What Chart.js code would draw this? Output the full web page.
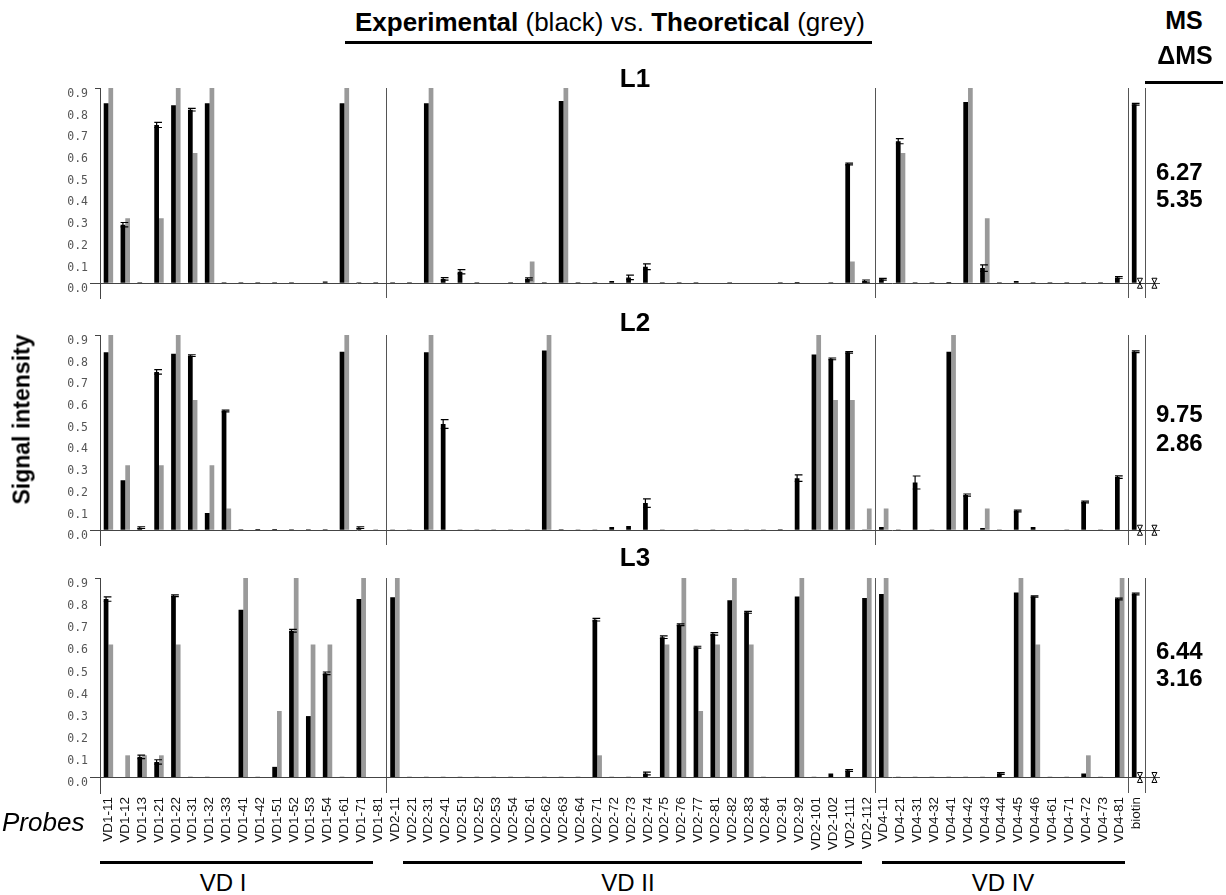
<!DOCTYPE html>
<html><head><meta charset="utf-8">
<script src="https://cdn.jsdelivr.net/npm/chart.js@4"></script>
<style>
body{margin:0;background:#fff;width:1226px;height:895px;position:relative;overflow:hidden;font-family:"Liberation Sans",Arial,sans-serif;color:#000}
canvas{position:absolute;left:0}
.t{position:absolute;white-space:nowrap;z-index:5}
.ln{position:absolute;background:#000;z-index:5}
.b{font-weight:bold}
</style></head><body>
<canvas id="c1" width="1226" height="226" style="top:80px"></canvas>
<canvas id="c2" width="1226" height="226" style="top:327px"></canvas>
<canvas id="c3" width="1226" height="285" style="top:570px"></canvas>

<div class="t" style="left:310px;width:600px;text-align:center;top:9px;font-size:26px;line-height:26px"><span class="b">Experimental</span> (black) vs. <span class="b">Theoretical</span> (grey)</div>
<div class="ln" style="left:345px;top:41px;width:527px;height:3px"></div>
<div class="t b" style="left:1145px;width:78px;text-align:center;top:8px;font-size:25px;line-height:25px">MS</div>
<div class="t b" style="left:1145px;width:80px;text-align:center;top:43px;font-size:25px;line-height:25px">ΔMS</div>
<div class="ln" style="left:1145px;top:81px;width:78px;height:3px"></div>

<div class="t b" style="left:585px;width:100px;text-align:center;top:65px;font-size:26px;line-height:26px">L1</div>
<div class="t b" style="left:585px;width:100px;text-align:center;top:309px;font-size:26px;line-height:26px">L2</div>
<div class="t b" style="left:585px;width:100px;text-align:center;top:544px;font-size:26px;line-height:26px">L3</div>

<div class="t b" style="left:1156px;top:160px;font-size:24px;line-height:24px">6.27</div>
<div class="t b" style="left:1156px;top:187px;font-size:24px;line-height:24px">5.35</div>
<div class="t b" style="left:1156px;top:402px;font-size:24px;line-height:24px">9.75</div>
<div class="t b" style="left:1156px;top:431px;font-size:24px;line-height:24px">2.86</div>
<div class="t b" style="left:1156px;top:639px;font-size:24px;line-height:24px">6.44</div>
<div class="t b" style="left:1156px;top:666px;font-size:24px;line-height:24px">3.16</div>

<div class="t b" style="left:-78px;width:200px;text-align:center;top:408px;font-size:23px;line-height:23px;transform:rotate(-90deg)">Signal intensity</div>
<div class="t" style="left:2px;top:809px;font-size:26px;line-height:26px;font-style:italic">Probes</div>

<div class="ln" style="left:100px;top:861px;width:273px;height:3px"></div>
<div class="ln" style="left:403px;top:861px;width:459px;height:3px"></div>
<div class="ln" style="left:882px;top:861px;width:243px;height:3px"></div>
<div class="t" style="left:173px;width:100px;text-align:center;top:871px;font-size:24px;line-height:24px">VD I</div>
<div class="t" style="left:578px;width:100px;text-align:center;top:871px;font-size:24px;line-height:24px">VD II</div>
<div class="t" style="left:953px;width:100px;text-align:center;top:871px;font-size:24px;line-height:24px">VD IV</div>

<script>
// ---------- categories ----------
const groupVD1 = ['VD1-11','VD1-12','VD1-13','VD1-21','VD1-22','VD1-31','VD1-32','VD1-33','VD1-41','VD1-42','VD1-51','VD1-52','VD1-53','VD1-54','VD1-61','VD1-71','VD1-81'];
const groupVD2 = ['VD2-11','VD2-21','VD2-31','VD2-41','VD2-51','VD2-52','VD2-53','VD2-54','VD2-61','VD2-62','VD2-63','VD2-64','VD2-71','VD2-72','VD2-73','VD2-74','VD2-75','VD2-76','VD2-77','VD2-81','VD2-82','VD2-83','VD2-84','VD2-91','VD2-92','VD2-101','VD2-102','VD2-111','VD2-112'];
const groupVD4 = ['VD4-11','VD4-21','VD4-31','VD4-32','VD4-41','VD4-42','VD4-43','VD4-44','VD4-45','VD4-46','VD4-61','VD4-71','VD4-72','VD4-73','VD4-81'];
const groupBiotin = ['biotin'];
const probes = [...groupVD1, ...groupVD2, ...groupVD4, ...groupBiotin];

// ---------- y tick labels ----------
const yTickValues = [0.0,0.1,0.2,0.3,0.4,0.5,0.6,0.7,0.8,0.9];

// ---------- L1 ----------
const L1_experimental = [
  0.83,0.27,0.005,0.73,0.82,0.80,0.83,0.004,0.004,0.004,0.004,0.004,0,0.008,0.83,0.004,0.004,
  0.004,0.004,0.83,0.02,0.053,0.004,0,0.004,0.02,0.004,0.84,0.004,0.004,0.01,0.027,0.076,0.004,0.004,0.004,0,0.004,0,0,0.004,0.006,0,0.004,0.55,0.01,
  0.018,0.655,0.004,0.004,0.006,0.835,0.07,0.004,0.01,0.004,0.004,0.004,0.004,0.004,0.027,
  0.825];
const L1_theoretical = [
  1,0.3,0,0.3,1,0.6,1,0,0,0,0,0,0,0,1,0,0,
  0,0,1,0,0,0,0,0,0.1,0,1,0,0,0,0,0,0,0,0,0,0,0,0,0,0,0,0,0.1,0,
  0,0.6,0,0,0,1,0.3,0,0,0,0,0,0,0,0,
  null];
const L1_error = [
  0,0.01,0,0.012,0,0.006,0,0,0,0,0,0,0,0,0,0,0,
  0,0,0,0.006,0.01,0,0,0,0.005,0,0,0,0,0,0.01,0.013,0,0,0,0,0,0,0,0,0,0,0,0.004,0.005,
  0.004,0.012,0,0,0,0,0.015,0,0,0,0,0,0,0,0.004,
  0.004];

// ---------- L2 ----------
const L2_experimental = [
  0.82,0.23,0.012,0.73,0.813,0.805,0.08,0.55,0.004,0.006,0.006,0.004,0.004,0.004,0.823,0.012,0.003,
  0.003,0.003,0.82,0.49,0.003,0.003,0.003,0.003,0.003,0.828,0.005,0.003,0.003,0.015,0.02,0.125,0.003,0,0.003,0.003,0.003,0.003,0.003,0.004,0.24,0.81,0.79,0.82,0.003,
  0.015,0.003,0.22,0.003,0.823,0.162,0.01,0.003,0.089,0.015,0,0.003,0.13,0.003,0.245,
  0.823];
const L2_theoretical = [
  1,0.3,0,0.3,1,0.6,0.3,0.1,0,0,0,0,0,0,1,0,0,
  0,0,1,0,0,0,0,0,0,1,0,0,0,0,0,0,0,0,0,0,0,0,0,0,0,1,0.6,0.6,0.1,
  0.1,0,0,0,1,0,0.1,0,0,0,0,0,0,0,0,
  null];
const L2_error = [
  0,0,0.004,0.01,0,0.004,0,0.004,0,0,0,0,0,0,0,0.004,0,
  0,0,0,0.02,0,0,0,0,0,0,0,0,0,0,0,0.02,0,0,0,0,0,0,0,0,0.015,0,0.004,0.004,0,
  0,0,0.03,0,0,0.005,0,0,0.004,0,0,0,0.004,0,0.006,
  0.004];

// ---------- L3 ----------
const L3_experimental = [
  0.805,0,0.093,0.07,0.82,0.003,0.003,0,0.757,0.003,0.048,0.662,0.277,0.47,0.003,0.805,0,
  0.813,0.003,0.003,0.003,0.003,0.003,0.003,0.003,0.003,0.003,0.003,0.003,0.712,0.003,0.003,0.018,0.633,0.689,0.588,0.648,0.80,0.745,0.003,0,0.816,0.003,0.018,0.032,0.81,
  0.828,0.003,0.003,0.003,0.003,0.003,0.003,0.018,0.835,0.817,0.003,0.003,0.018,0.003,0.805,
  0.828];
const L3_theoretical = [
  0.6,0.1,0.1,0.1,0.6,0,0,0,1,0,0.3,1,0.6,0.6,0,1,0,
  1,0,0,0,0,0,0,0,0,0,0,0,0.1,0,0,0,0.6,1,0.3,0.6,1,0.6,0,0,1,0,0,0,1,
  1,0,0,0,0,0,0,0,1,0.6,0,0,0.1,0,1,
  null];
const L3_error = [
  0.01,0,0.008,0.01,0.004,0,0,0,0,0,0,0.006,0,0.006,0,0,0,
  0,0,0,0,0,0,0,0,0,0,0,0,0.006,0,0,0.006,0.006,0.004,0.004,0.006,0,0.004,0,0,0,0,0,0.004,0,
  0,0,0,0,0,0,0,0.004,0,0.003,0,0,0,0,0.004,
  0.004];

// group boundaries (grid line indices) from group sizes
const boundaries = new Set([0, groupVD1.length, groupVD1.length+groupVD2.length,
  groupVD1.length+groupVD2.length+groupVD4.length, probes.length]);

const decor = {
  id: 'decor',
  beforeDatasetsDraw(chart) {
    const {ctx, chartArea, scales:{y}} = chart;
    const y0 = Math.round(y.getPixelForValue(0)) + 0.5;
    ctx.save();
    ctx.strokeStyle = '#444'; ctx.lineWidth = 1;
    ctx.beginPath(); ctx.moveTo(chartArea.left - 10, y0); ctx.lineTo(chartArea.right + 15, y0); ctx.stroke();
    ctx.restore();
  },
  afterDatasetsDraw(chart, args, opts) {
    const {ctx, chartArea, scales:{x, y}} = chart;
    const vals = chart.data.datasets[0].data;
    const meta = chart.getDatasetMeta(0);
    ctx.save();
    ctx.strokeStyle = '#000'; ctx.lineWidth = 1.2;
    meta.data.forEach((bar, i) => {
      const e = opts.errors[i];
      if (!e) return;
      const v = vals[i];
      const xc = bar.x, w = bar.width;
      const yt = y.getPixelForValue(v + e), yb = y.getPixelForValue(Math.max(0, v - e));
      ctx.beginPath();
      ctx.moveTo(xc, yt); ctx.lineTo(xc, yb);
      ctx.moveTo(xc - w/2, yt); ctx.lineTo(xc + w/2 + 3, yt);
      ctx.moveTo(xc - w/2, yb); ctx.lineTo(xc + w/2 + 3, yb);
      ctx.stroke();
    });
    // zero-value markers for biotin theoretical and the MS column
    const last = probes.length - 1;
    const cw = (chartArea.right - chartArea.left) / probes.length;
    const y0 = y.getPixelForValue(0);
    const w = meta.data[last].width;
    const mark = (cx) => {
      ctx.beginPath();
      ctx.moveTo(cx-2.5, y0-5); ctx.lineTo(cx+2.5, y0+5);
      ctx.moveTo(cx+2.5, y0-5); ctx.lineTo(cx-2.5, y0+5);
      ctx.moveTo(cx-2.5, y0-5); ctx.lineTo(cx+2.5, y0-5);
      ctx.moveTo(cx-2.5, y0+5); ctx.lineTo(cx+2.5, y0+5);
      ctx.stroke();
    };
    ctx.lineWidth = 1;
    mark(x.getPixelForTick(last) + w/2 + 1);
    mark(x.getPixelForTick(last) + cw + 1);
    ctx.restore();
  }
};

function makeChart(id, exp, theo, err, showLabels, xHeight) {
  return new Chart(document.getElementById(id), {
    type: 'bar',
    data: {
      labels: probes,
      datasets: [
        {label: 'Experimental', data: exp, backgroundColor: '#000', borderWidth: 0},
        {label: 'Theoretical', data: theo, backgroundColor: '#9a9a9a', borderWidth: 0}
      ]
    },
    options: {
      responsive: false,
      animation: false,
      events: [],
      layout: {padding: {left: 0, right: 81, top: 8, bottom: 0}},
      plugins: {legend: {display: false}, tooltip: {enabled: false}, decor: {errors: err}},
      datasets: {bar: {categoryPercentage: 0.56, barPercentage: 1.0}},
      scales: {
        x: {
          type: 'category',
          offset: true,
          border: {display: false},
          grid: {offset: true, drawTicks: false, lineWidth: 1,
                 color: (c) => (c.type !== 'tick' || boundaries.has(c.index)) ? '#555' : 'rgba(0,0,0,0)'},
          ticks: {display: showLabels, autoSkip: false, minRotation: 90, maxRotation: 90, padding: 4,
                  color: '#111', font: {family: 'Liberation Sans', size: 13.5, lineHeight: 0.1}},
          afterFit: (s) => { s.height = xHeight; }
        },
        y: {
          min: -0.07, max: 0.9,
          border: {display: true, color: '#444'},
          grid: {drawOnChartArea: false, drawTicks: true, tickLength: 5,
                 tickColor: (c) => (c.tick && (Math.abs(c.tick.value) < 1e-9 || Math.abs(c.tick.value - 0.9) < 1e-9)) ? '#444' : 'rgba(0,0,0,0)'},
          afterBuildTicks: (s) => { s.ticks = yTickValues.map(v => ({value: v})); },
          ticks: {padding: 7, labelOffset: 6, color: '#555',
                  font: {family: 'DejaVu Sans Mono', size: 11.5, lineHeight: 0.1},
                  callback: (v) => Number(v).toFixed(1)},
          afterFit: (s) => { s.width = 100; }
        }
      }
    },
    plugins: [decor]
  });
}

makeChart('c1', L1_experimental, L1_theoretical, L1_error, false, 0);
makeChart('c2', L2_experimental, L2_theoretical, L2_error, false, 0);
makeChart('c3', L3_experimental, L3_theoretical, L3_error, true, 62);
</script>
</body></html>
